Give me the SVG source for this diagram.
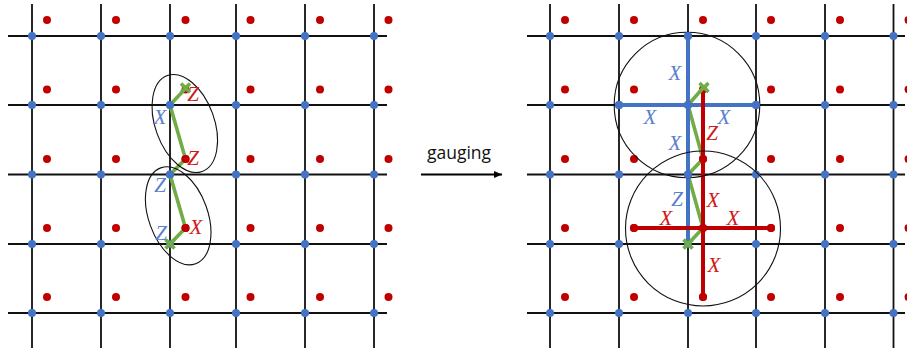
<svg xmlns="http://www.w3.org/2000/svg" xmlns:xlink="http://www.w3.org/1999/xlink" width="907" height="348" viewBox="0 0 907 348">
<style>
.g{stroke:#111;stroke-width:1.800;fill:none}
.v{fill:#4472c4}
.r{fill:#c00000}
.gr{stroke:#70ad47;stroke-width:3.600;fill:none}
.bl{stroke:#4472c4;stroke-width:4;fill:none}
.rd{stroke:#c00000;stroke-width:4;fill:none}
.c{stroke:#111;stroke-width:1.100;fill:none}
text{font-family:"Liberation Serif",serif;font-style:italic;font-size:21px;text-anchor:middle}
.tb{fill:#5b7fce}
.tr{fill:#d01818}
</style>
<defs>
<g id="reds">
<circle cx="0" cy="20" r="4"/><circle cx="0" cy="89.500" r="4"/><circle cx="0" cy="159" r="4"/><circle cx="0" cy="228" r="4"/><circle cx="0" cy="297" r="4"/>
</g>
<g id="blues">
<circle cx="0" cy="36" r="4"/><circle cx="0" cy="105" r="4"/><circle cx="0" cy="174.500" r="4"/><circle cx="0" cy="244" r="4"/><circle cx="0" cy="313" r="4"/>
</g>
<marker id="ah" markerWidth="9" markerHeight="8" refX="8" refY="4" orient="auto" markerUnits="userSpaceOnUse"><path d="M0 0.500L8 4L0 7.500Z" fill="#000"/></marker>
</defs>

<g id="left-lattice">
<path class="g" d="M32 4V348M101 4V348M170 4V348M236 4V348M305 4V348M374 4V348M8 36H387M8 105H387M8 174.500H387M8 244H387M8 313H387"/>
<g class="v"><use href="#blues" x="32"/><use href="#blues" x="101"/><use href="#blues" x="170"/><use href="#blues" x="236"/><use href="#blues" x="305"/><use href="#blues" x="374"/></g>
<g class="r"><use href="#reds" x="47"/><use href="#reds" x="116"/><use href="#reds" x="185.500"/><use href="#reds" x="250.500"/><use href="#reds" x="320"/><use href="#reds" x="388.500"/></g>
</g>
<g id="left-connectors">
<path class="gr" d="M170 105L185.500 88.500M170 105L185.500 159M170 174.500L185.500 159M170 174.500L185.500 228M170 244L185.500 228"/>
<path class="gr" d="M181 83.500L190 92.500M190 83.500L181 92.500M165.500 239.500L174.500 248.500M174.500 239.500L165.500 248.500"/>
<ellipse class="c" cx="184.800" cy="123.500" rx="29.500" ry="51" transform="rotate(-20 184.800 123.500)"/>
<ellipse class="c" cx="178.200" cy="215.800" rx="29.500" ry="51" transform="rotate(-20 178.200 215.800)"/>
</g>
<g id="left-points">
<circle class="v" cx="170" cy="105" r="4"/>
<circle class="r" cx="185.500" cy="159" r="4"/>
<circle class="v" cx="170" cy="174.500" r="4"/>
<circle class="r" cx="185.500" cy="228" r="4"/>
</g>
<g id="left-labels">
<text class="tr" x="193" y="101">Z</text>
<text class="tb" x="160" y="124">X</text>
<text class="tr" x="193" y="165">Z</text>
<text class="tb" x="160" y="192">Z</text>
<text class="tr" x="196" y="234">X</text>
<text class="tb" x="161" y="240">Z</text>
</g>

<g id="arrow">
<text x="459" y="158.500" style="font-family:'Open Sans','DejaVu Sans',sans-serif;font-style:normal;font-size:17.500px;fill:#111">gauging</text>
<path d="M421 174.500H502" stroke="#000" stroke-width="1.800" fill="none" marker-end="url(#ah)"/>
</g>

<g id="right-lattice">
<path class="g" d="M550 4V348M619 4V348M688 4V348M756 4V348M825 4V348M893.500 4V348M527 36H905M527 105H905M527 174.500H905M527 244H905M527 313H905"/>
<g class="v"><use href="#blues" x="550"/><use href="#blues" x="619"/><use href="#blues" x="688"/><use href="#blues" x="756"/><use href="#blues" x="825"/><use href="#blues" x="893.500"/></g>
<g class="r"><use href="#reds" x="565"/><use href="#reds" x="634"/><use href="#reds" x="703"/><use href="#reds" x="771"/><use href="#reds" x="840"/><use href="#reds" x="908.500"/></g>
</g>
<g id="right-connectors">
<path class="gr" d="M688 105L703 88M688 105L703 159M688 174.500L703 159M688 174.500L703 228M688 244L703 228"/>
<path class="bl" d="M688 36V244M619 105H756"/>
<path class="rd" d="M703 89.500V297M634 228H771"/>
<path class="gr" d="M699.500 83L708.500 92M708.500 83L699.500 92M683.500 239.500L692.500 248.500M692.500 239.500L683.500 248.500"/>
<circle class="c" cx="687" cy="105" r="72.800"/>
<circle class="c" cx="703" cy="228.500" r="77.500"/>
</g>
<g id="right-points">
<circle class="r" cx="703" cy="159" r="4"/><circle class="r" cx="703" cy="228" r="4"/><circle class="r" cx="634" cy="228" r="4"/><circle class="r" cx="771" cy="228" r="4"/><circle class="r" cx="703" cy="297" r="4"/>
<circle class="v" cx="688" cy="36" r="4"/><circle class="v" cx="688" cy="105" r="4"/><circle class="v" cx="619" cy="105" r="4"/><circle class="v" cx="756" cy="105" r="4"/><circle class="v" cx="688" cy="174.500" r="4"/>
</g>
<g id="right-labels">
<text class="tb" x="675" y="80">X</text>
<text class="tb" x="650" y="124">X</text>
<text class="tb" x="724" y="124">X</text>
<text class="tb" x="675" y="150">X</text>
<text class="tr" x="712" y="140">Z</text>
<text class="tb" x="677" y="206">Z</text>
<text class="tr" x="713" y="207">X</text>
<text class="tr" x="666" y="225">X</text>
<text class="tr" x="733" y="225">X</text>
<text class="tr" x="714" y="272">X</text>
</g>
</svg>
